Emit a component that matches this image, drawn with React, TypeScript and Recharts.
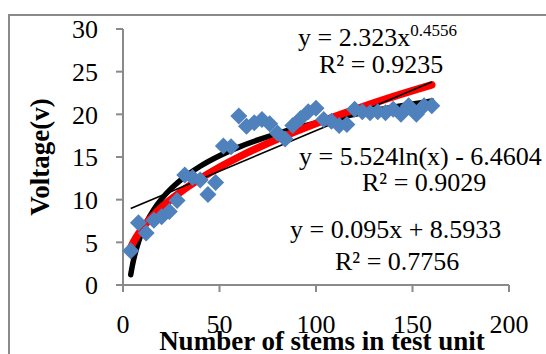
import { ComposedChart, Scatter, Line, XAxis, YAxis } from 'recharts';

// stems in test unit (x) vs measured voltage (y)
const stems = [4, 8, 12, 16, 20, 24, 28, 32, 36, 40, 44, 48, 52, 56, 60, 64, 68, 72, 76, 80,
    84, 88, 92, 96, 100, 104, 108, 112, 116, 120, 124, 128, 132, 136, 140, 144, 148, 152, 156, 160];
const voltage = [4.0, 7.3, 6.1, 7.6, 8.0, 8.6, 9.9, 12.9, 12.6, 12.3, 10.6, 12.0, 16.3, 16.2, 19.8, 18.6, 19.0, 19.4, 18.9, 17.8,
    17.1, 18.7, 19.5, 20.3, 20.7, 19.4, 19.2, 18.7, 18.8, 20.6, 20.3, 20.2, 20.3, 20.2, 20.6, 20.0, 21.0, 20.0, 21.0, 21.0];

// trendlines at a few x positions
const trendX = [4, 5, 6, 8, 10, 12, 16, 20, 25, 30, 40, 50, 60, 80, 100, 120, 140, 160];
const logTrend = [1.20, 2.43, 3.44, 5.03, 6.26, 7.27, 8.86, 10.09, 11.32, 12.33, 13.92, 15.15, 16.16, 17.75, 18.98, 19.99, 20.84, 21.58];
const powerTrend = [4.37, 4.84, 5.26, 5.99, 6.63, 7.21, 8.22, 9.10, 10.07, 10.94, 12.47, 13.81, 15.00, 17.10, 18.93, 20.57, 22.08, 23.46];
const linearX = [4, 160];
const linearTrend = [8.97, 23.79];

const xTicks = [0, 50, 100, 150, 200];
const yTicks = [0, 5, 10, 15, 20, 25, 30];

const points = stems.map((x, i) => ({ x, y: voltage[i] }));
const logData = trendX.map((x, i) => ({ x, y: logTrend[i] }));
const powerData = trendX.map((x, i) => ({ x, y: powerTrend[i] }));
const linearData = linearX.map((x, i) => ({ x, y: linearTrend[i] }));

const serif = '"Liberation Serif", "Times New Roman", serif';
const axisGray = '#8a8a8a';

const Diamond = (props: any) => {
    const { cx, cy } = props;
    const r = 8.5;
    return <path d={`M${cx},${cy - r}L${cx + r},${cy}L${cx},${cy + r}L${cx - r},${cy}Z`} fill="#4f81bd" />;
};

const textStyle: React.CSSProperties = {
    position: 'absolute',
    fontFamily: serif,
    fontSize: 26,
    color: '#000',
    whiteSpace: 'nowrap',
    lineHeight: 'normal',
    transform: 'translateY(-50%)',
};

const App = () => {
    return (
        <div style={{ position: 'absolute', left: 0, top: 0, width: 546, height: 354, overflow: 'hidden', background: '#fff' }}>
            <div style={{ position: 'absolute', left: 8, top: 14, width: 700, height: 500, border: `2px solid ${axisGray}` }} />
            <div style={{ position: 'absolute', left: 0, top: 0 }}>
                <ComposedChart width={546} height={354} margin={{ top: 29, right: 37, left: 63, bottom: 39 }}>
                    <XAxis type="number" dataKey="x" domain={[0, 200]} ticks={xTicks} height={30}
                        axisLine={{ stroke: axisGray, strokeWidth: 2 }} tickLine={{ stroke: axisGray, strokeWidth: 2 }}
                        tickSize={7} tickMargin={23}
                        tick={{ fontSize: 26, fill: '#000', fontFamily: serif }} />
                    <YAxis type="number" dataKey="y" domain={[0, 30]} ticks={yTicks} width={60}
                        axisLine={{ stroke: axisGray, strokeWidth: 2 }} tickLine={{ stroke: axisGray, strokeWidth: 2 }}
                        tickSize={7} tickMargin={18}
                        tick={{ fontSize: 26, fill: '#000', fontFamily: serif }} />
                    <Scatter data={points} dataKey="y" shape={Diamond} isAnimationActive={false} />
                    <Line data={logData} dataKey="y" type="monotone" stroke="#000" strokeWidth={5.5} strokeLinecap="round"
                        dot={false} activeDot={false} isAnimationActive={false} />
                    <Line data={powerData} dataKey="y" type="monotone" stroke="#ff0000" strokeWidth={7.5} strokeLinecap="round"
                        dot={false} activeDot={false} isAnimationActive={false} />
                    <Line data={linearData} dataKey="y" type="linear" stroke="#000" strokeWidth={1.7}
                        dot={false} activeDot={false} isAnimationActive={false} />
                </ComposedChart>
            </div>

            {/* trendline equations */}
            <div style={{ ...textStyle, left: 298, top: 38 }}>
                y = 2.323x<span style={{ fontSize: 17, verticalAlign: 'super', lineHeight: 0 }}>0.4556</span>
            </div>
            <div style={{ ...textStyle, left: 319, top: 65 }}>R² = 0.9235</div>
            <div style={{ ...textStyle, left: 299, top: 157 }}>y = 5.524ln(x) - 6.4604</div>
            <div style={{ ...textStyle, left: 362, top: 183 }}>R² = 0.9029</div>
            <div style={{ ...textStyle, left: 290, top: 230 }}>y = 0.095x + 8.5933</div>
            <div style={{ ...textStyle, left: 335, top: 262 }}>R² = 0.7756</div>

            {/* axis titles */}
            <div style={{ ...textStyle, fontSize: 27, fontWeight: 'bold', left: 322, top: 341, transform: 'translate(-50%, -50%)' }}>
                Number of stems in test unit
            </div>
            <div style={{ ...textStyle, fontSize: 27, fontWeight: 'bold', left: 40, top: 157, transform: 'translate(-50%, -50%) rotate(-90deg)' }}>
                Voltage(v)
            </div>
        </div>
    );
};

export default App;
